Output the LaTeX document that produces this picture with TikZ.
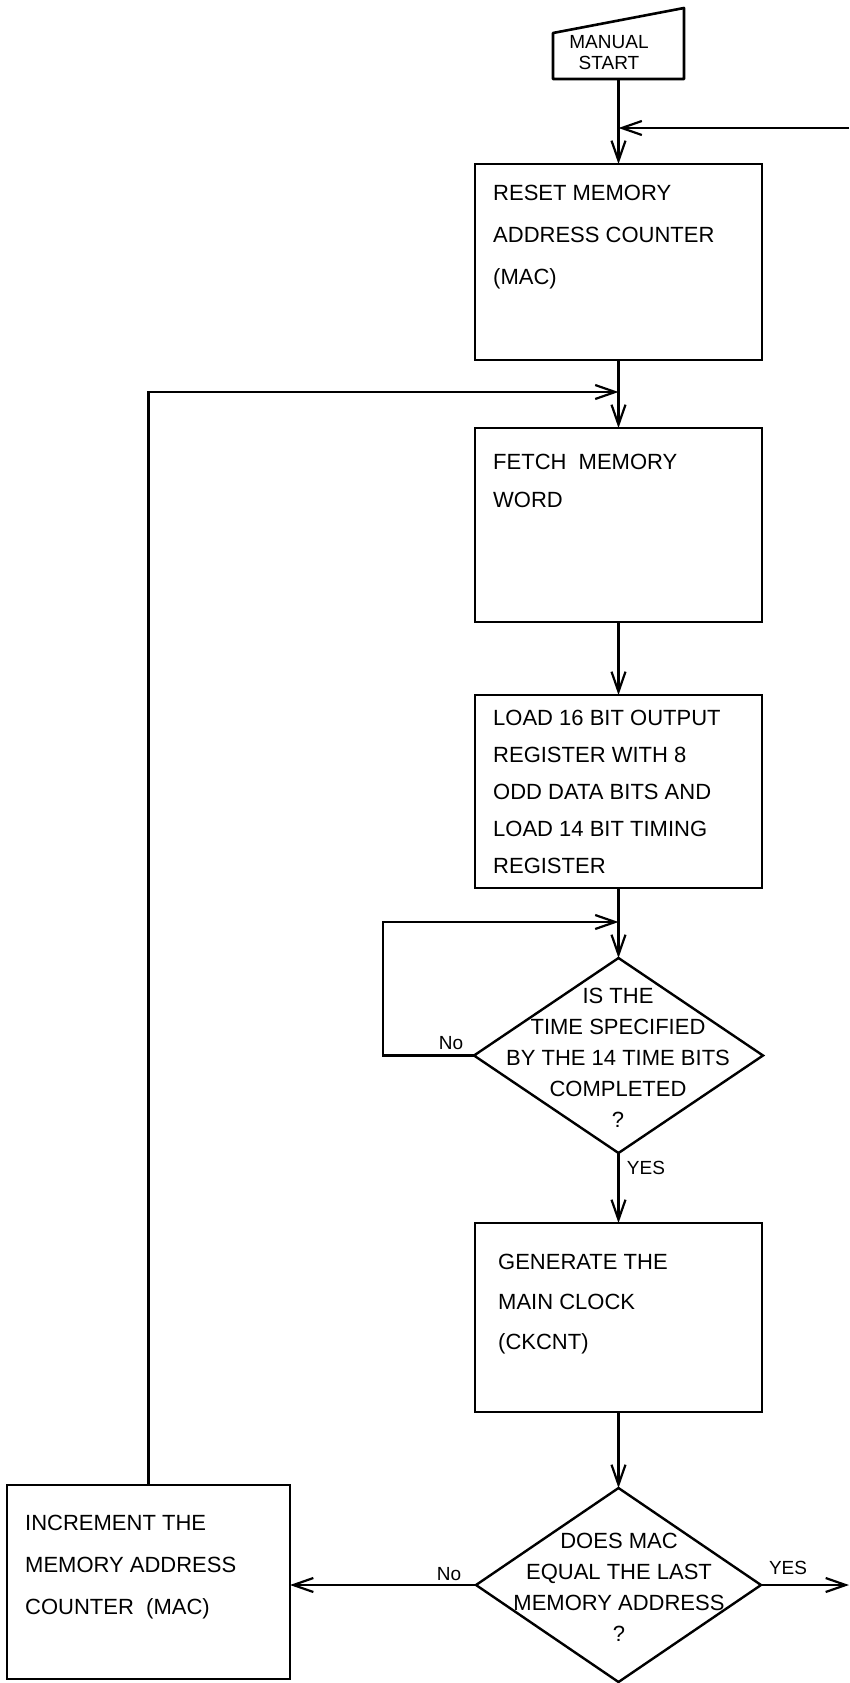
\documentclass[tikz,border=0pt]{standalone}
\usepackage{fontspec}
\setmainfont{Liberation Sans}
\usetikzlibrary{shapes.geometric,arrows.meta}
\begin{document}
\begin{tikzpicture}[x=1pt,y=-1pt,
  box/.style={draw, line width=2.8pt, inner sep=0pt, outer sep=0pt},
  dia/.style={draw, diamond, line width=2.4pt, inner sep=0pt, outer sep=0pt},
  txt/.style={anchor=north west, inner sep=0pt, align=left},
  dtxt/.style={inner sep=0pt, align=center, font=\fontsize{22}{31}\selectfont},
  conn/.style={line width=2.2pt, -{Straight Barb[length=20pt,width=14pt,line width=2.2pt]}},
  lab/.style={font=\fontsize{19}{21}\selectfont, inner sep=0pt}
]
\fill[white] (0,0) rectangle (849,1683);
\useasboundingbox (0,0) rectangle (849,1683);

% manual start
\node[inner sep=0pt, outer sep=0pt, minimum width=131pt, minimum height=71pt] (ms) at (618.5,43.5) {};
\draw[line width=2.6pt, line join=round] (ms.south west) -- ([yshift=-25pt]ms.north west) -- (ms.north east) -- (ms.south east) -- cycle;
\node[inner sep=0pt, align=center, font=\fontsize{19}{21}\selectfont] (mst) at (609,53) {MANUAL\\START};

% boxes
\node[box, minimum width=287pt, minimum height=196pt] (reset) at (618.5,262) {};
\node[box, minimum width=287pt, minimum height=194pt] (fetch) at (618.5,525) {};
\node[box, minimum width=287pt, minimum height=193pt] (load) at (618.5,791.5) {};
\node[box, minimum width=287pt, minimum height=189pt] (gen) at (618.5,1317.5) {};
\node[box, minimum width=283pt, minimum height=194pt] (inc) at (148.5,1582) {};

% diamonds
\node[dia, minimum width=289pt, minimum height=195pt] (d1) at (618.5,1055.5) {};
\node[dia, minimum width=285pt, minimum height=194pt] (d2) at (618.5,1585) {};

% texts
\node[txt, font=\fontsize{22}{42}\selectfont] (resett) at (493,185) {RESET MEMORY\\ADDRESS COUNTER\\(MAC)};
\node[txt, font=\fontsize{22}{38}\selectfont] (fetcht) at (493,454) {FETCH\ \ MEMORY\\WORD};
\node[txt, font=\fontsize{22}{37}\selectfont] (loadt) at (493,710) {LOAD 16 BIT OUTPUT\\REGISTER WITH 8\\ODD DATA BITS AND\\LOAD 14 BIT TIMING\\REGISTER};
\node[txt, font=\fontsize{22}{40}\selectfont] (gent) at (498,1254) {GENERATE THE\\MAIN CLOCK\\(CKCNT)};
\node[txt, font=\fontsize{22}{42}\selectfont] (inct) at (25,1515) {INCREMENT THE\\MEMORY ADDRESS\\COUNTER\ \ (MAC)};
\node[dtxt] (d1t) at (618,1058) {IS THE\\TIME SPECIFIED\\BY THE 14 TIME BITS\\COMPLETED\\?};
\node[dtxt] (d2t) at (619,1587) {DOES MAC\\EQUAL THE LAST\\MEMORY ADDRESS\\?};

% labels
\node[lab] (no1) at (451,1043) {No};
\node[lab] (yes1) at (646,1168) {YES};
\node[lab] (no2) at (449,1574) {No};
\node[lab] (yes2) at (788,1568) {YES};

% junction coordinates
\coordinate (rin) at (849,128);
\coordinate (j1) at (618.5,128);
\coordinate (j2) at (618.5,392);
\coordinate (l1) at (383,922);
\coordinate (j3) at (618.5,922);
\coordinate (rout) at (849,1585);

% connectors
\draw[conn] (ms) -- (reset);
\draw[conn] (rin) -- (j1);
\draw[conn] (reset) -- (fetch);
\draw[conn] (inc.north) |- (j2);
\draw[conn] (fetch) -- (load);
\draw[conn] (load) -- (d1);
\draw[conn] (d1.west) -| (l1) -- (j3);
\draw[conn] (d1) -- (gen);
\draw[conn] (gen) -- (d2);
\draw[conn] (d2.west) -- (d2.west -| inc.east);
\draw[conn] (d2.east) -- (rout);
\end{tikzpicture}
\end{document}
